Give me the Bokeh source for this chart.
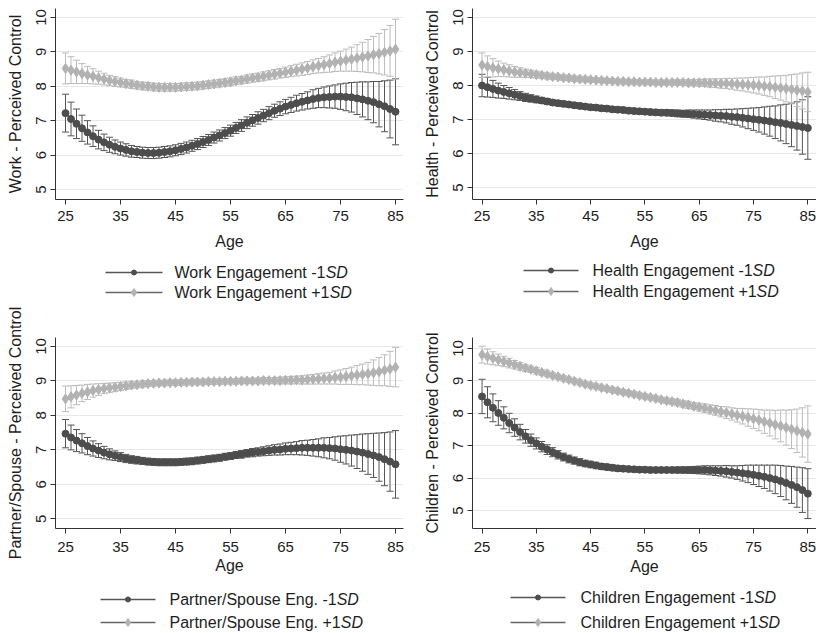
import numpy as np
from bokeh.plotting import figure
from bokeh.models import ColumnDataSource, Whisker, TeeHead, Range1d, FixedTicker
from bokeh.layouts import column, row
from bokeh.embed import file_html
from bokeh.resources import INLINE
from bokeh.core.properties import value

# ---------------- data ----------------
ages = list(range(25, 86))
x_ticks = [25, 35, 45, 55, 65, 75, 85]
y_ticks = [5, 6, 7, 8, 9, 10]

work_lo_mean = [7.22, 7.05, 6.91, 6.78, 6.66, 6.55, 6.45, 6.37, 6.30, 6.24,
                6.19, 6.15, 6.11, 6.09, 6.07, 6.06, 6.06, 6.07, 6.09, 6.11,
                6.14, 6.18, 6.22, 6.27, 6.32, 6.38, 6.44, 6.51, 6.57, 6.64,
                6.71, 6.79, 6.86, 6.94, 7.01, 7.08, 7.15, 7.22, 7.29, 7.35,
                7.41, 7.46, 7.51, 7.55, 7.59, 7.63, 7.66, 7.68, 7.69, 7.70,
                7.70, 7.69, 7.68, 7.65, 7.62, 7.58, 7.54, 7.48, 7.42, 7.34,
                7.26]
work_lo_ci = [0.55, 0.49, 0.43, 0.38, 0.34, 0.30, 0.27, 0.24, 0.22, 0.20,
              0.19, 0.18, 0.17, 0.16, 0.16, 0.16, 0.16, 0.16, 0.16, 0.16,
              0.16, 0.16, 0.16, 0.16, 0.16, 0.16, 0.16, 0.16, 0.16, 0.16,
              0.16, 0.16, 0.17, 0.17, 0.17, 0.18, 0.18, 0.19, 0.19, 0.20,
              0.21, 0.22, 0.23, 0.24, 0.25, 0.27, 0.28, 0.30, 0.32, 0.34,
              0.37, 0.40, 0.43, 0.47, 0.51, 0.55, 0.60, 0.66, 0.74, 0.84,
              0.96]
work_hi_mean = [8.52, 8.47, 8.42, 8.37, 8.33, 8.29, 8.25, 8.21, 8.17, 8.14,
                8.11, 8.08, 8.06, 8.03, 8.01, 8.00, 7.98, 7.97, 7.97, 7.97,
                7.97, 7.98, 7.99, 8.00, 8.01, 8.03, 8.05, 8.07, 8.09, 8.11,
                8.13, 8.16, 8.18, 8.21, 8.24, 8.26, 8.29, 8.32, 8.35, 8.38,
                8.41, 8.44, 8.47, 8.50, 8.53, 8.57, 8.60, 8.63, 8.66, 8.70,
                8.73, 8.76, 8.79, 8.82, 8.85, 8.88, 8.92, 8.95, 8.99, 9.03,
                9.08]
work_hi_ci = [0.45, 0.39, 0.34, 0.29, 0.25, 0.22, 0.19, 0.17, 0.15, 0.14,
              0.13, 0.12, 0.12, 0.11, 0.11, 0.11, 0.11, 0.11, 0.11, 0.11,
              0.11, 0.11, 0.11, 0.11, 0.11, 0.11, 0.11, 0.11, 0.11, 0.11,
              0.11, 0.11, 0.11, 0.12, 0.12, 0.12, 0.13, 0.13, 0.14, 0.14,
              0.15, 0.16, 0.17, 0.18, 0.19, 0.20, 0.21, 0.23, 0.25, 0.27,
              0.29, 0.32, 0.35, 0.39, 0.43, 0.48, 0.53, 0.59, 0.66, 0.74,
              0.87]

health_lo_mean = [8.00, 7.95, 7.90, 7.85, 7.81, 7.77, 7.73, 7.69, 7.65, 7.62,
                  7.59, 7.56, 7.53, 7.50, 7.48, 7.46, 7.44, 7.42, 7.40, 7.38,
                  7.36, 7.35, 7.33, 7.32, 7.30, 7.29, 7.28, 7.26, 7.25, 7.24,
                  7.23, 7.22, 7.21, 7.20, 7.20, 7.19, 7.18, 7.17, 7.17, 7.16,
                  7.15, 7.14, 7.13, 7.12, 7.11, 7.10, 7.08, 7.07, 7.05, 7.03,
                  7.01, 6.99, 6.97, 6.95, 6.92, 6.90, 6.87, 6.84, 6.81, 6.78,
                  6.75]
health_lo_ci = [0.33, 0.29, 0.25, 0.22, 0.19, 0.17, 0.15, 0.13, 0.12, 0.11,
                0.10, 0.09, 0.09, 0.08, 0.08, 0.08, 0.08, 0.08, 0.08, 0.08,
                0.08, 0.08, 0.08, 0.08, 0.08, 0.08, 0.08, 0.08, 0.08, 0.08,
                0.08, 0.08, 0.08, 0.08, 0.09, 0.09, 0.10, 0.10, 0.11, 0.12,
                0.13, 0.14, 0.15, 0.17, 0.18, 0.20, 0.22, 0.24, 0.27, 0.30,
                0.33, 0.36, 0.40, 0.44, 0.48, 0.53, 0.58, 0.64, 0.71, 0.80,
                0.92]
health_hi_mean = [8.60, 8.56, 8.52, 8.49, 8.46, 8.43, 8.40, 8.38, 8.36, 8.34,
                  8.32, 8.30, 8.28, 8.26, 8.25, 8.23, 8.22, 8.20, 8.19, 8.18,
                  8.17, 8.16, 8.15, 8.14, 8.13, 8.12, 8.12, 8.11, 8.11, 8.10,
                  8.10, 8.10, 8.09, 8.09, 8.09, 8.09, 8.09, 8.09, 8.08, 8.08,
                  8.08, 8.08, 8.07, 8.07, 8.06, 8.06, 8.05, 8.04, 8.03, 8.02,
                  8.01, 8.00, 7.98, 7.97, 7.95, 7.93, 7.91, 7.89, 7.86, 7.84,
                  7.81]
health_hi_ci = [0.36, 0.31, 0.27, 0.23, 0.20, 0.18, 0.16, 0.14, 0.12, 0.11,
                0.10, 0.09, 0.09, 0.08, 0.08, 0.08, 0.08, 0.08, 0.08, 0.08,
                0.07, 0.07, 0.07, 0.07, 0.07, 0.07, 0.07, 0.07, 0.07, 0.07,
                0.07, 0.07, 0.07, 0.07, 0.07, 0.07, 0.08, 0.08, 0.09, 0.09,
                0.10, 0.11, 0.12, 0.13, 0.14, 0.15, 0.16, 0.18, 0.19, 0.21,
                0.23, 0.25, 0.27, 0.30, 0.33, 0.36, 0.39, 0.43, 0.48, 0.53,
                0.58]

partner_lo_mean = [7.47, 7.36, 7.27, 7.19, 7.11, 7.04, 6.98, 6.92, 6.87, 6.83,
                   6.79, 6.75, 6.72, 6.70, 6.68, 6.66, 6.65, 6.64, 6.64, 6.64,
                   6.64, 6.65, 6.66, 6.67, 6.69, 6.71, 6.73, 6.75, 6.77, 6.80,
                   6.82, 6.85, 6.87, 6.90, 6.92, 6.94, 6.96, 6.98, 7.00, 7.01,
                   7.03, 7.04, 7.05, 7.06, 7.06, 7.06, 7.06, 7.06, 7.05, 7.04,
                   7.02, 7.00, 6.98, 6.95, 6.92, 6.88, 6.84, 6.79, 6.73, 6.66,
                   6.58]
partner_lo_ci = [0.41, 0.36, 0.32, 0.28, 0.25, 0.22, 0.20, 0.18, 0.16, 0.14,
                 0.13, 0.12, 0.11, 0.11, 0.10, 0.10, 0.10, 0.10, 0.10, 0.10,
                 0.10, 0.10, 0.10, 0.10, 0.10, 0.10, 0.10, 0.10, 0.10, 0.10,
                 0.10, 0.10, 0.11, 0.11, 0.12, 0.12, 0.13, 0.14, 0.15, 0.16,
                 0.17, 0.18, 0.19, 0.21, 0.22, 0.24, 0.26, 0.29, 0.31, 0.34,
                 0.38, 0.41, 0.45, 0.49, 0.54, 0.59, 0.64, 0.70, 0.77, 0.86,
                 0.98]
partner_hi_mean = [8.48, 8.54, 8.59, 8.64, 8.68, 8.72, 8.75, 8.78, 8.80, 8.82,
                   8.84, 8.86, 8.88, 8.89, 8.91, 8.92, 8.93, 8.94, 8.94, 8.95,
                   8.95, 8.96, 8.96, 8.97, 8.97, 8.97, 8.98, 8.98, 8.98, 8.99,
                   8.99, 8.99, 9.00, 9.00, 9.00, 9.00, 9.01, 9.01, 9.01, 9.01,
                   9.02, 9.02, 9.03, 9.03, 9.04, 9.05, 9.06, 9.07, 9.08, 9.10,
                   9.11, 9.13, 9.15, 9.17, 9.19, 9.21, 9.24, 9.27, 9.31, 9.35,
                   9.40]
partner_hi_ci = [0.37, 0.32, 0.28, 0.24, 0.22, 0.19, 0.17, 0.15, 0.14, 0.13,
                 0.12, 0.11, 0.10, 0.09, 0.09, 0.08, 0.08, 0.08, 0.08, 0.08,
                 0.08, 0.08, 0.08, 0.08, 0.08, 0.08, 0.08, 0.08, 0.08, 0.08,
                 0.08, 0.08, 0.08, 0.08, 0.08, 0.08, 0.09, 0.09, 0.09, 0.10,
                 0.10, 0.11, 0.11, 0.12, 0.13, 0.14, 0.15, 0.16, 0.17, 0.19,
                 0.21, 0.23, 0.25, 0.28, 0.30, 0.33, 0.37, 0.41, 0.45, 0.51,
                 0.57]

children_lo_mean = [8.52, 8.34, 8.17, 8.01, 7.86, 7.70, 7.56, 7.42, 7.29, 7.17,
                    7.07, 6.97, 6.88, 6.80, 6.72, 6.65, 6.59, 6.54, 6.49, 6.45,
                    6.42, 6.39, 6.36, 6.34, 6.32, 6.30, 6.29, 6.28, 6.27, 6.26,
                    6.26, 6.25, 6.25, 6.25, 6.25, 6.25, 6.25, 6.25, 6.25, 6.25,
                    6.25, 6.25, 6.24, 6.23, 6.22, 6.21, 6.19, 6.17, 6.15, 6.13,
                    6.10, 6.07, 6.04, 6.00, 5.96, 5.91, 5.85, 5.79, 5.72, 5.63,
                    5.52]
children_lo_ci = [0.53, 0.48, 0.43, 0.38, 0.34, 0.30, 0.27, 0.24, 0.21, 0.19,
                  0.17, 0.16, 0.15, 0.14, 0.13, 0.12, 0.12, 0.11, 0.11, 0.10,
                  0.10, 0.10, 0.09, 0.09, 0.09, 0.09, 0.08, 0.08, 0.08, 0.08,
                  0.08, 0.08, 0.08, 0.08, 0.08, 0.08, 0.09, 0.09, 0.10, 0.11,
                  0.12, 0.13, 0.14, 0.15, 0.16, 0.18, 0.19, 0.21, 0.24, 0.27,
                  0.30, 0.33, 0.36, 0.40, 0.44, 0.48, 0.52, 0.57, 0.62, 0.69,
                  0.77]
children_hi_mean = [9.81, 9.75, 9.70, 9.65, 9.60, 9.55, 9.50, 9.45, 9.40, 9.36,
                    9.31, 9.26, 9.22, 9.17, 9.13, 9.08, 9.04, 8.99, 8.95, 8.90,
                    8.86, 8.83, 8.79, 8.76, 8.72, 8.69, 8.65, 8.62, 8.59, 8.55,
                    8.52, 8.49, 8.46, 8.42, 8.39, 8.36, 8.33, 8.29, 8.26, 8.22,
                    8.19, 8.16, 8.12, 8.09, 8.05, 8.02, 7.98, 7.94, 7.91, 7.87,
                    7.83, 7.79, 7.74, 7.70, 7.65, 7.61, 7.56, 7.51, 7.46, 7.41,
                    7.36]
children_hi_ci = [0.26, 0.23, 0.20, 0.18, 0.16, 0.15, 0.13, 0.12, 0.11, 0.10,
                  0.10, 0.09, 0.09, 0.08, 0.08, 0.08, 0.08, 0.08, 0.08, 0.08,
                  0.08, 0.08, 0.08, 0.08, 0.08, 0.08, 0.08, 0.08, 0.08, 0.08,
                  0.08, 0.08, 0.08, 0.08, 0.09, 0.09, 0.10, 0.10, 0.11, 0.11,
                  0.12, 0.13, 0.14, 0.15, 0.16, 0.18, 0.19, 0.21, 0.24, 0.27,
                  0.30, 0.33, 0.36, 0.40, 0.44, 0.49, 0.54, 0.60, 0.67, 0.76,
                  0.87]

# ---------------- style ----------------
FONT = "Liberation Sans"
TXT = "#1e1e1e"
DARK = "#4d4d4d"
LIGHT = "#b2b2b2"
DARK_ERR = "#555555"
LIGHT_ERR = "#bcbcbc"

ARIAL_W = {' ': 278, '-': 333, '+': 584, '.': 278, '/': 278, '1': 556,
           'C': 722, 'E': 667, 'H': 722, 'P': 667, 'S': 667, 'W': 944, 'D': 722,
           'a': 556, 'c': 500, 'd': 556, 'e': 556, 'g': 556, 'h': 556, 'i': 222,
           'k': 500, 'l': 222, 'm': 833, 'n': 556, 'o': 556, 'p': 556, 'r': 333,
           's': 500, 't': 278, 'u': 556, 'v': 500}


def text_width(s, size):
    return sum(ARIAL_W.get(c, 556) for c in s) * size / 1000.0


def add_series(p, mean, ci, err_color):
    m = np.array(mean)
    c = np.array(ci)
    src = ColumnDataSource(dict(x=ages, m=m, lo=m - c, hi=m + c))
    w = Whisker(source=src, base="x", lower="lo", upper="hi",
                line_color=err_color, line_width=1,
                upper_head=TeeHead(size=7, line_color=err_color, line_width=1),
                lower_head=TeeHead(size=7, line_color=err_color, line_width=1))
    p.add_layout(w)
    return src


def panel(ylabel, lo_mean, lo_ci, hi_mean, hi_ci, width, height, bl, br, bt, bb,
          xr, yr, tick_standoff, label_standoff):
    p = figure(width=width, height=height, x_range=Range1d(*xr), y_range=Range1d(*yr),
               output_backend="svg", toolbar_location=None,
               min_border_left=bl, min_border_right=br, min_border_top=bt, min_border_bottom=bb)
    p.outline_line_color = None
    p.background_fill_color = "white"
    p.border_fill_color = "white"
    s_lo = add_series(p, lo_mean, lo_ci, DARK_ERR)
    s_hi = add_series(p, hi_mean, hi_ci, LIGHT_ERR)
    p.line("x", "m", source=s_lo, line_color=DARK, line_width=1.5)
    p.scatter("x", "m", source=s_lo, marker="circle", size=7, fill_color=DARK, line_color=DARK)
    p.line("x", "m", source=s_hi, line_color=LIGHT, line_width=1.5)
    p.scatter("x", "m", source=s_hi, marker="diamond", size=10, fill_color=LIGHT, line_color=LIGHT)

    p.xaxis.ticker = FixedTicker(ticks=x_ticks)
    p.yaxis.ticker = FixedTicker(ticks=y_ticks)
    p.xaxis.axis_label = "Age"
    p.yaxis.axis_label = ylabel
    for ax in (p.xaxis[0], p.yaxis[0]):
        ax.axis_label_text_font = FONT
        ax.axis_label_text_font_style = "normal"
        ax.axis_label_text_font_size = "16px"
        ax.axis_label_text_color = TXT
        ax.major_label_text_font = FONT
        ax.major_label_text_font_size = "15px"
        ax.major_label_text_color = TXT
        ax.axis_line_color = "#333333"
        ax.major_tick_line_color = "#333333"
        ax.major_tick_out = 5
        ax.major_tick_in = 0
        ax.minor_tick_line_color = None
    p.xaxis.major_label_standoff = tick_standoff
    p.xaxis.axis_label_standoff = label_standoff
    p.yaxis.major_label_orientation = "vertical"
    p.yaxis.major_label_standoff = 4
    p.yaxis.axis_label_standoff = 10
    p.xgrid.grid_line_color = None
    p.ygrid.grid_line_color = "#e8e8e8"
    p.ygrid.grid_line_width = 1
    return p


def legend_fig(width, height, x0, x1, xt, y1, y2, lab1, lab2):
    L = figure(width=width, height=height, x_range=Range1d(0, width), y_range=Range1d(height, 0),
               output_backend="svg", toolbar_location=None, x_axis_type=None, y_axis_type=None,
               min_border=0)
    L.outline_line_color = None
    L.xgrid.grid_line_color = None
    L.ygrid.grid_line_color = None
    xm = (x0 + x1) / 2.0
    L.line([x0, x1], [y1, y1], line_color="#555555", line_width=1.3)
    L.scatter([xm], [y1], marker="circle", size=5, fill_color=DARK, line_color=DARK)
    L.line([x0, x1], [y2, y2], line_color="#666666", line_width=1.3)
    L.scatter([xm], [y2], marker="diamond", size=8, fill_color=LIGHT, line_color=LIGHT)
    for lab, yy in ((lab1, y1), (lab2, y2)):
        L.text(x=[xt], y=[yy], text=[lab], text_font=value(FONT), text_font_size="16px",
               text_baseline="middle", text_align="left", text_color=TXT)
        L.text(x=[xt + text_width(lab, 16)], y=[yy], text=["SD"], text_font=value(FONT),
               text_font_size="16px", text_font_style="italic",
               text_baseline="middle", text_align="left", text_color=TXT)
    return L


# top row: figure 0..254, frame 8..199 ; bottom row: figure 302..580, frame 337..528
p1 = panel("Work - Perceived Control", work_lo_mean, work_lo_ci, work_hi_mean, work_hi_ci,
           408, 254, 55, 5, 8, 55, (23.18, 86.45), (4.709, 10.262), 6, 9)
p2 = panel("Health - Perceived Control", health_lo_mean, health_lo_ci, health_hi_mean, health_hi_ci,
           408, 254, 64, 0, 8, 55, (23.24, 86.6), (4.647, 10.265), 6, 9)
p3 = panel("Partner/Spouse - Perceived Control", partner_lo_mean, partner_lo_ci, partner_hi_mean, partner_hi_ci,
           408, 278, 55, 5, 35, 52, (23.18, 86.45), (4.718, 10.261), 8, 2)
p4 = panel("Children - Perceived Control", children_lo_mean, children_lo_ci, children_hi_mean, children_hi_ci,
           408, 278, 64, 0, 35, 52, (23.24, 86.6), (4.444, 10.34), 8, 3)

l1 = legend_fig(408, 48, 105, 162, 174, 18, 38, "Work Engagement -1", "Work Engagement +1")
l2 = legend_fig(408, 48, 115, 170, 184, 16, 37, "Health Engagement -1", "Health Engagement +1")
l3 = legend_fig(408, 53, 100, 155, 169, 19, 42, "Partner/Spouse Eng. -1", "Partner/Spouse Eng. +1")
l4 = legend_fig(408, 53, 102, 157, 172, 17, 42, "Children Engagement -1", "Children Engagement +1")

layout = column(row(p1, p2), row(l1, l2), row(p3, p4), row(l3, l4))

open("out.html", "w").write(file_html(layout, INLINE))
